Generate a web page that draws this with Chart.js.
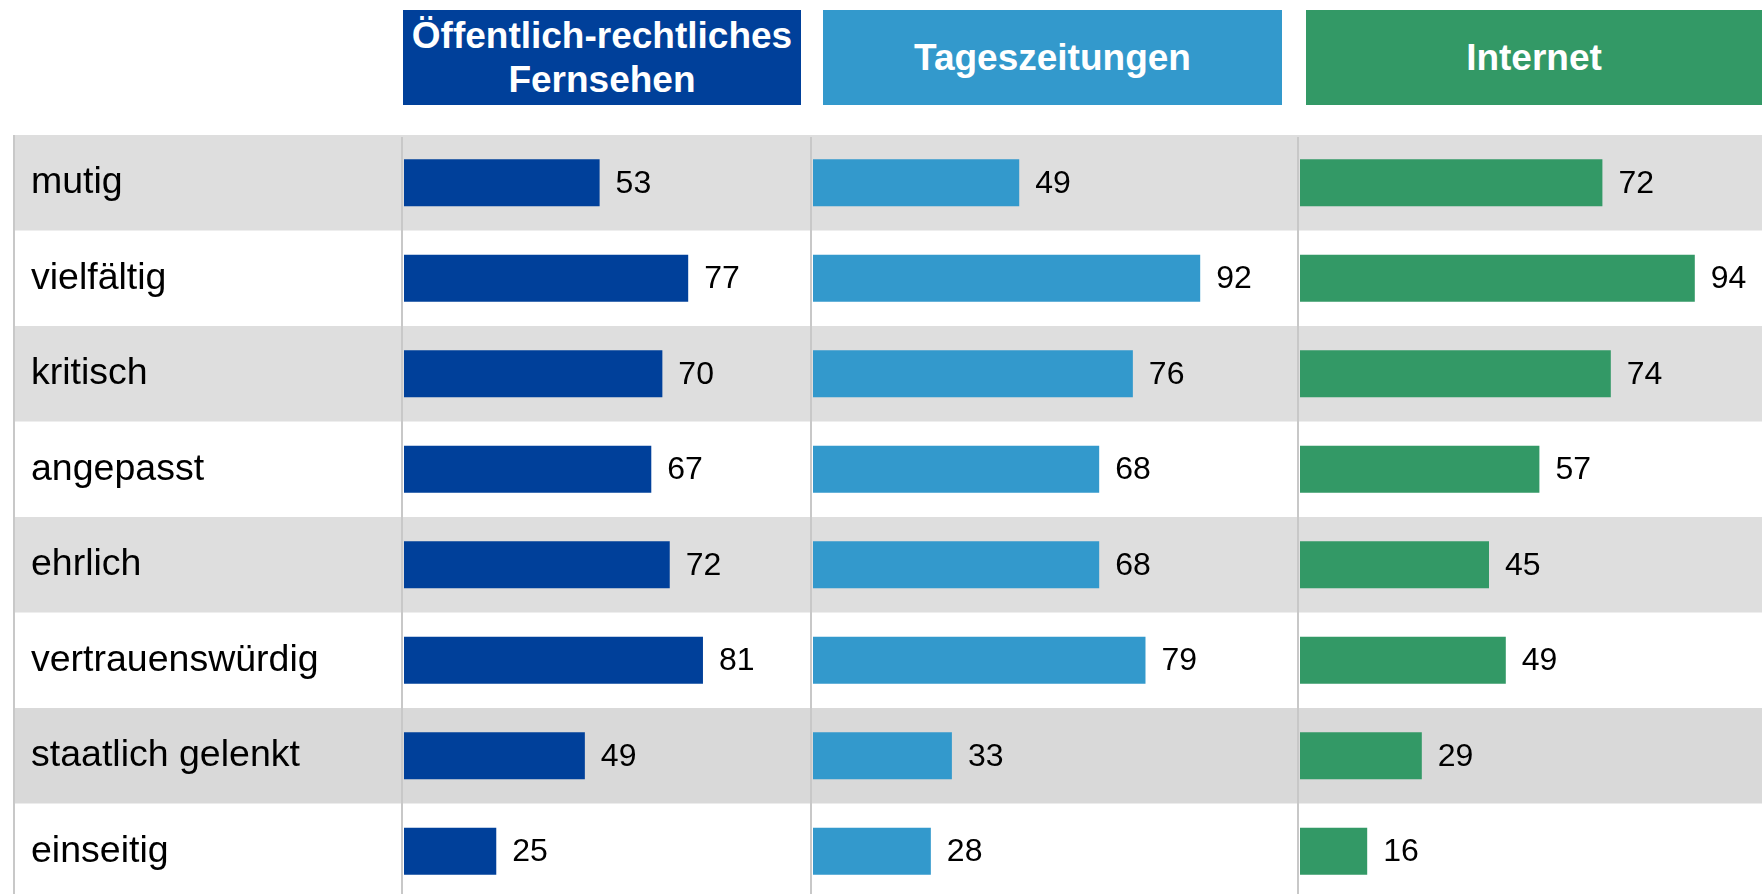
<!DOCTYPE html>
<html lang="de">
<head>
<meta charset="utf-8">
<script src="https://cdn.jsdelivr.net/npm/chart.js@4.4.1/dist/chart.umd.min.js"></script>
<style>
  html, body { margin: 0; padding: 0; background: #fff; overflow: hidden; }
  #page { position: relative; width: 1762px; height: 894px; overflow: hidden; }
  .head {
    position: absolute; top: 10px; height: 95px;
    display: flex; align-items: center; justify-content: center; text-align: center;
    color: #fff; font: bold 37px/44px "Liberation Sans", Arial, sans-serif;
  }
  canvas { position: absolute; top: 135px; }
</style>
</head>
<body>
<div id="page">
  <div class="head" style="left:403px;width:398px;background:#00409a;">Öffentlich-rechtliches<br>Fernsehen</div>
  <div class="head" style="left:823px;width:459px;background:#3399cc;">Tageszeitungen</div>
  <div class="head" style="left:1306px;width:456px;background:#339966;">Internet</div>
  <canvas id="tvChart" width="797" height="764" style="left:13px"></canvas>
  <canvas id="zeitungChart" width="487" height="764" style="left:810px"></canvas>
  <canvas id="internetChart" width="465" height="764" style="left:1297px"></canvas>
</div>
<script>
// Eigenschaften (Zeilen)
const categories = ['mutig', 'vielfältig', 'kritisch', 'angepasst', 'ehrlich', 'vertrauenswürdig', 'staatlich gelenkt', 'einseitig'];

// Werte je Medium
const tvValues = [53, 77, 70, 67, 72, 81, 49, 25];
const zeitungValues = [49, 92, 76, 68, 68, 79, 33, 28];
const internetValues = [72, 94, 74, 57, 45, 49, 29, 16];

const FONT = '"Liberation Sans", Arial, sans-serif';

// graue Zeilenstreifen + Trennlinie links vom Panel
const rowBands = {
  id: 'rowBands',
  beforeDraw(chart, args, opts) {
    const { ctx, chartArea } = chart;
    const y = chart.scales.y;
    const half = (y.getPixelForValue(1) - y.getPixelForValue(0)) / 2;
    ctx.save();
    categories.forEach((c, i) => {
      if (i % 2 === 0) {
        ctx.fillStyle = i === 6 ? '#d9d9d9' : '#dedede';
        const yc = y.getPixelForValue(i);
        ctx.fillRect(0, yc - half, chart.width, half * 2);
      }
    });
    ctx.fillStyle = '#c8c8c8';
    ctx.fillRect(chartArea.left - 3, 2, 2, chart.height);
    if (opts.leftBorder) {
      ctx.fillRect(0, 0, 2, chart.height);
    }
    ctx.restore();
  }
};

// Zahlen rechts neben den Balken
const valueLabels = {
  id: 'valueLabels',
  afterDatasetsDraw(chart) {
    const { ctx } = chart;
    const meta = chart.getDatasetMeta(0);
    const data = chart.data.datasets[0].data;
    ctx.save();
    ctx.font = '32px ' + FONT;
    ctx.fillStyle = '#000';
    ctx.textBaseline = 'middle';
    ctx.textAlign = 'left';
    meta.data.forEach((bar, i) => {
      ctx.fillText(data[i], bar.x + 16, bar.y + 1);
    });
    ctx.restore();
  }
};

function makeChart(id, values, color, xMax, withLabels) {
  const ctx = document.getElementById(id).getContext('2d');
  return new Chart(ctx, {
    type: 'bar',
    data: {
      labels: categories,
      datasets: [{
        data: values,
        backgroundColor: color,
        borderWidth: 0,
        barPercentage: 0.49,
        categoryPercentage: 1
      }]
    },
    options: {
      indexAxis: 'y',
      responsive: false,
      animation: false,
      devicePixelRatio: 1,
      layout: { padding: { left: withLabels ? 18 : 3, right: 0, top: 0, bottom: 0 } },
      plugins: {
        legend: { display: false },
        tooltip: { enabled: false },
        rowBands: { leftBorder: withLabels }
      },
      scales: {
        x: {
          display: false,
          min: 0,
          max: xMax
        },
        y: {
          display: withLabels,
          grid: { display: false },
          border: { display: false },
          ticks: {
            crossAlign: 'far',
            color: '#000',
            font: { family: FONT, size: 37.5 }
          },
          afterFit(scale) {
            if (withLabels) {
              scale.width = 373;
              scale.paddingTop = 0;
              scale.paddingBottom = 0;
            }
          }
        }
      }
    },
    plugins: [rowBands, valueLabels]
  });
}

makeChart('tvChart', tvValues, '#00409a', 110, true);
makeChart('zeitungChart', zeitungValues, '#3399cc', 115, false);
makeChart('internetChart', internetValues, '#339966', 110, false);
</script>
</body>
</html>
